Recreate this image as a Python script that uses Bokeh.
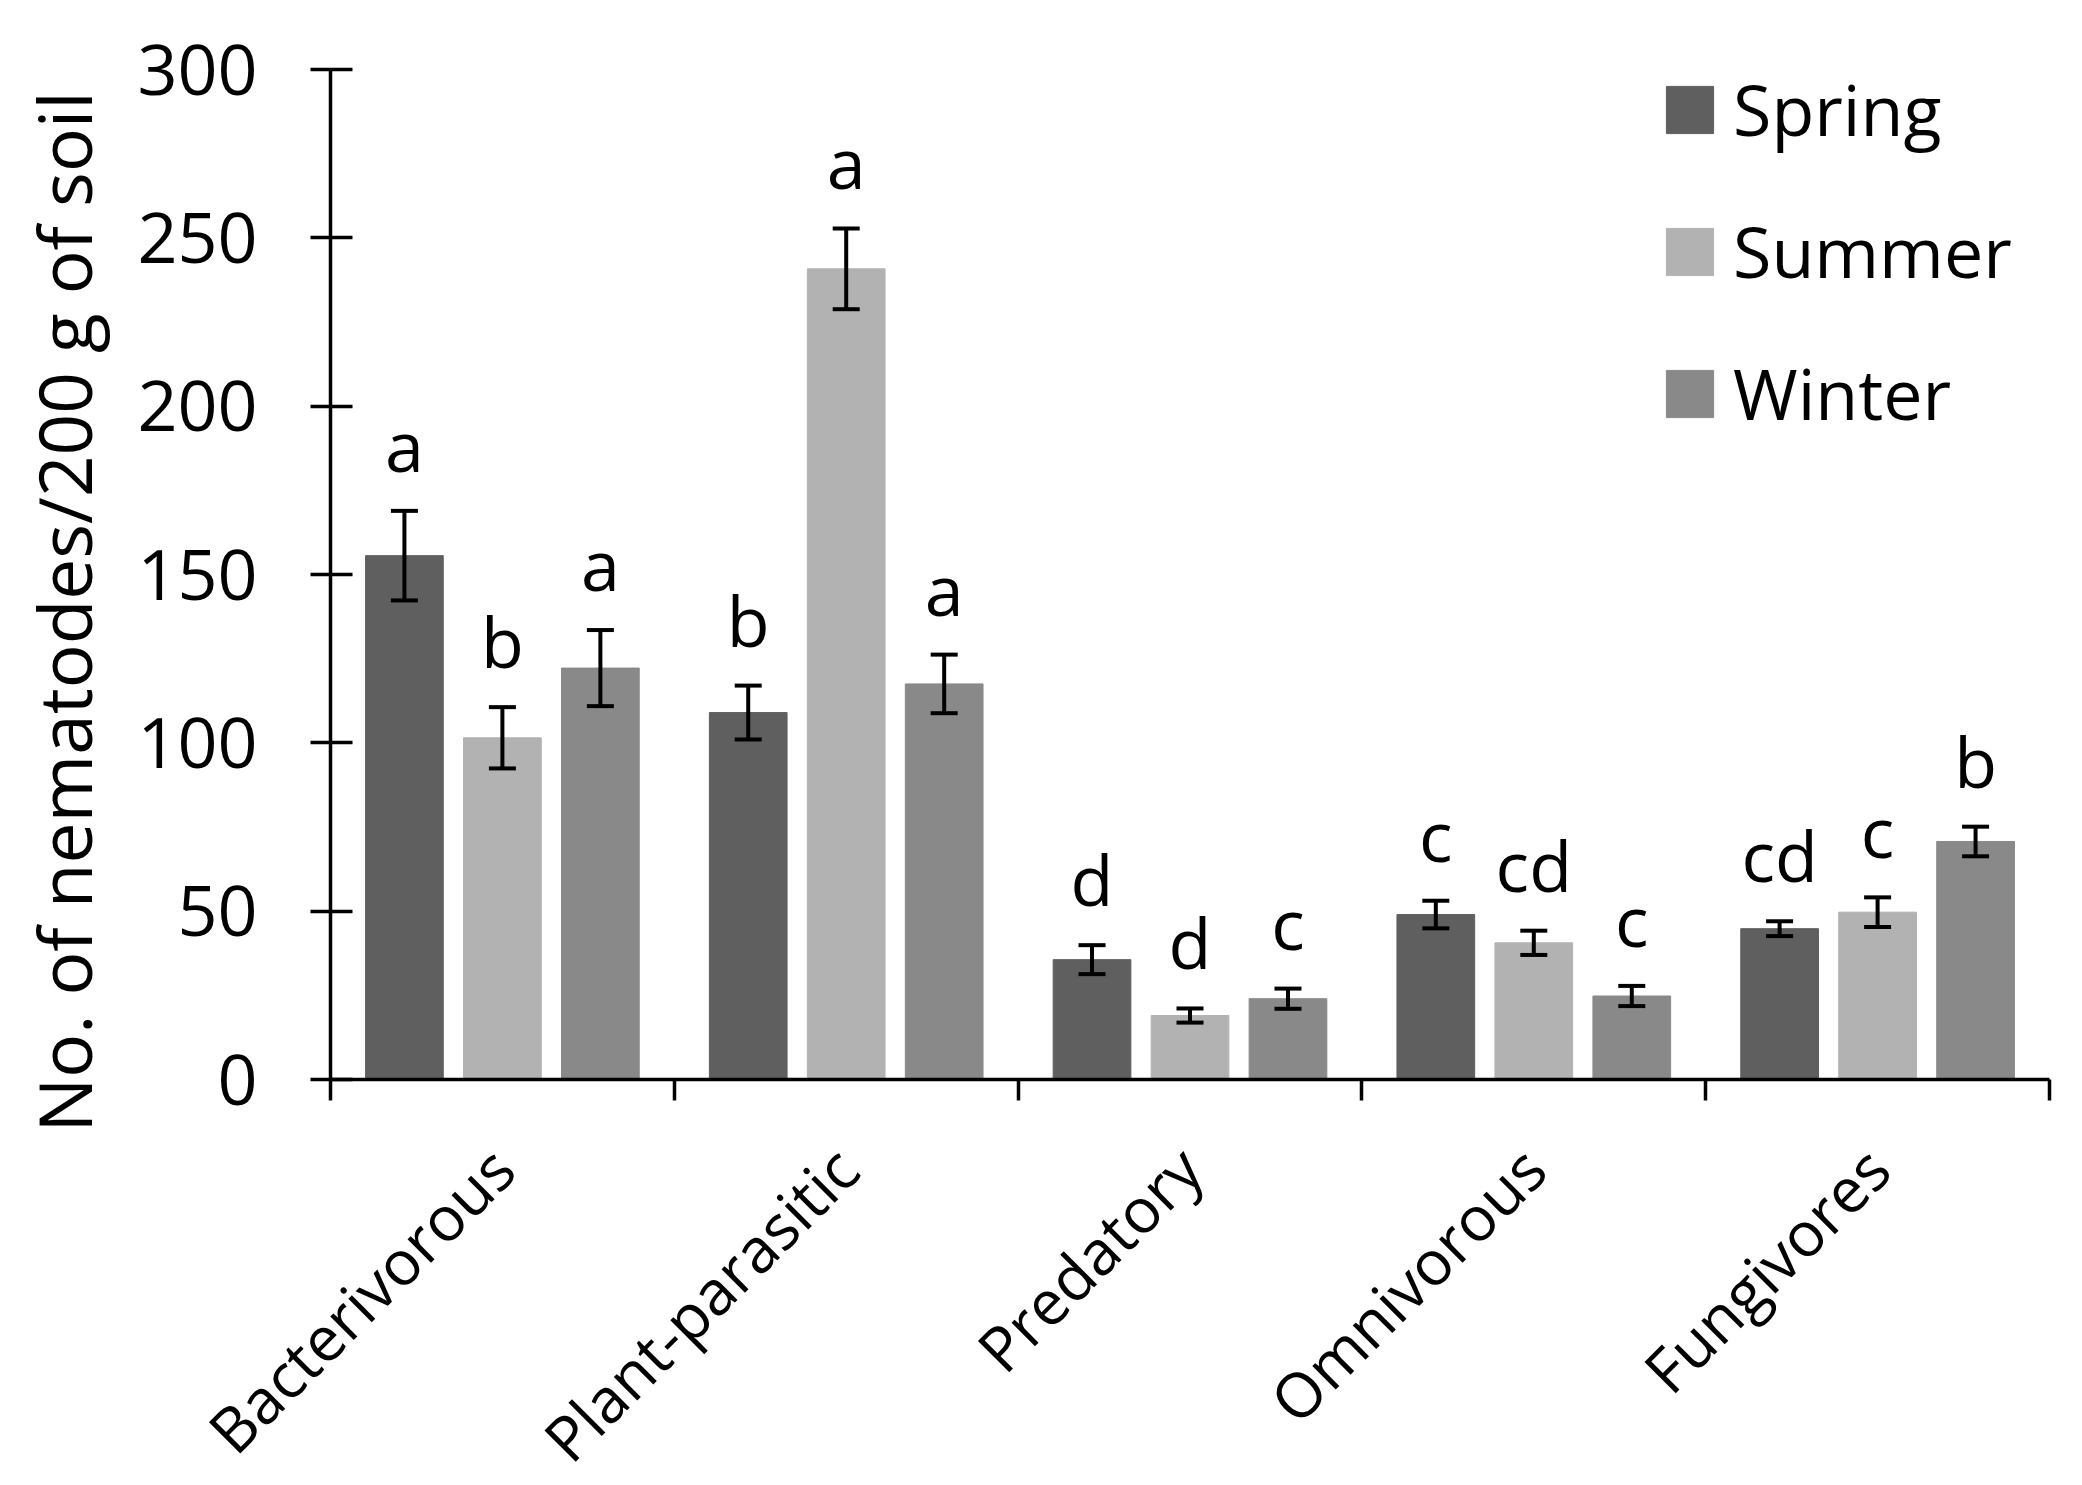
import math
from bokeh.plotting import figure
from bokeh.models import (ColumnDataSource, Whisker, TeeHead, FixedTicker, Legend,
                          LegendItem, Range1d, Label)
from bokeh.core.properties import value
from bokeh.embed import file_html
from bokeh.resources import INLINE

# ---------------- data ----------------
groups = ["Bacterivorous", "Plant-parasitic", "Predatory", "Omnivorous", "Fungivores"]
seasons = ["Spring", "Summer", "Winter"]

spring = [155.6, 109.0, 35.6, 49.0, 44.8]
spring_err = [13.3, 8.0, 4.3, 4.1, 2.2]
spring_letters = ["a", "b", "d", "c", "cd"]

summer = [101.5, 240.8, 19.0, 40.6, 49.7]
summer_err = [9.1, 12.0, 2.1, 3.6, 4.4]
summer_letters = ["b", "a", "d", "cd", "c"]

winter = [122.2, 117.5, 24.0, 24.8, 70.7]
winter_err = [11.3, 8.7, 3.0, 3.0, 4.4]
winter_letters = ["a", "a", "c", "c", "b"]

y_ticks = [0, 50, 100, 150, 200, 250, 300]
y_max = 300
y_title = "No. of nematodes/200 g of  soil"

# ---------------- layout (pixels) ----------------
W, H = 2066, 1485
AX_L, AX_R, AX_T, AX_B = 330, 2049, 69, 1079      # where the axes sit on the page
n = len(groups)
px_x = (AX_R - AX_L) / n
px_y = (AX_B - AX_T) / y_max

# ---------------- style ----------------
colors = ["#5f5f5f", "#b2b2b2", "#898989"]
offsets = [-0.285, 0.0, 0.285]
bar_w = 0.226
FONT = "Open Sans"
ERR_W = 4

# the plotting frame covers the whole page; both axes are pinned at 0 so that
# the slanted category labels and tick labels have room, as in the original
p = figure(width=W, height=H, output_backend="svg", toolbar_location=None,
           x_range=Range1d(-AX_L / px_x, n + (W - AX_R) / px_x),
           y_range=Range1d(-(H - AX_B) / px_y, y_max + AX_T / px_y),
           min_border_left=0, min_border_right=0, min_border_top=0,
           min_border_bottom=0)
p.outline_line_color = None
p.xgrid.visible = False
p.ygrid.visible = False
p.background_fill_color = "white"
p.border_fill_color = "white"

series = [
    (spring, spring_err, spring_letters),
    (summer, summer_err, summer_letters),
    (winter, winter_err, winter_letters),
]

items = []
for k, (vals, errs, letters) in enumerate(series):
    xs = [i + 0.5 + offsets[k] for i in range(n)]
    src = ColumnDataSource(dict(
        x=xs, top=vals,
        upper=[v + e for v, e in zip(vals, errs)],
        lower=[v - e for v, e in zip(vals, errs)],
        letter=letters,
    ))
    r = p.vbar(x="x", top="top", width=bar_w, bottom=0, source=src,
               fill_color=colors[k], line_color=colors[k], line_width=1)
    items.append(LegendItem(label=seasons[k], renderers=[r]))
    w = Whisker(base="x", upper="upper", lower="lower", source=src,
                dimension="height", line_color="black", line_width=ERR_W,
                level="overlay",
                upper_head=TeeHead(size=27, line_width=ERR_W, line_color="black"),
                lower_head=TeeHead(size=27, line_width=ERR_W, line_color="black"))
    p.add_layout(w)
    p.text(x="x", y="upper", text="letter", source=src,
           text_font=value(FONT), text_font_size="70px", text_color="black",
           text_align="center", text_baseline="alphabetic", y_offset=-66)

# ---------------- axes ----------------
xa = p.xaxis[0]
xa.fixed_location = 0
xa.bounds = (0, n)
xa.ticker = FixedTicker(ticks=[i + 0.5 for i in range(n)],
                        minor_ticks=list(range(n + 1)))
xa.major_label_overrides = {i + 0.5: g for i, g in enumerate(groups)}
xa.major_tick_in = 0
xa.major_tick_out = 0
xa.minor_tick_in = 0
xa.minor_tick_out = 21
xa.minor_tick_line_width = 3.5
xa.minor_tick_line_color = "black"
xa.axis_line_width = 3.5
xa.axis_line_color = "black"
xa.major_label_orientation = math.pi / 4
xa.major_label_standoff = 57
xa.major_label_text_font = FONT
xa.major_label_text_font_size = "62px"
xa.major_label_text_color = "black"

ya = p.yaxis[0]
ya.fixed_location = 0
ya.bounds = (0, y_max)
ya.ticker = FixedTicker(ticks=y_ticks, minor_ticks=[])
ya.major_tick_in = 22
ya.major_tick_out = 20
ya.major_tick_line_width = 3.5
ya.major_tick_line_color = "black"
ya.axis_line_width = 3.5
ya.axis_line_color = "black"
ya.major_label_standoff = 53
ya.major_label_text_font = FONT
ya.major_label_text_font_size = "70px"
ya.major_label_text_color = "black"

# y-axis title, placed where the original has it
p.add_layout(Label(x=63, y=H - 602, x_units="screen", y_units="screen",
                   text=y_title, angle=math.pi / 2,
                   text_align="center", text_baseline="middle",
                   text_font=FONT, text_font_size="73px", text_color="black"))

# ---------------- legend ----------------
legend = Legend(items=items, location=(1660, H - 445 + 4), orientation="vertical",
                glyph_width=59, glyph_height=59, label_height=59,
                label_text_font=FONT, label_text_font_size="70px",
                label_text_color="black", label_standoff=14,
                spacing=46, padding=0, margin=0,
                border_line_color=None, background_fill_alpha=0)
p.add_layout(legend)

open("out.html", "w").write(file_html(p, INLINE))
